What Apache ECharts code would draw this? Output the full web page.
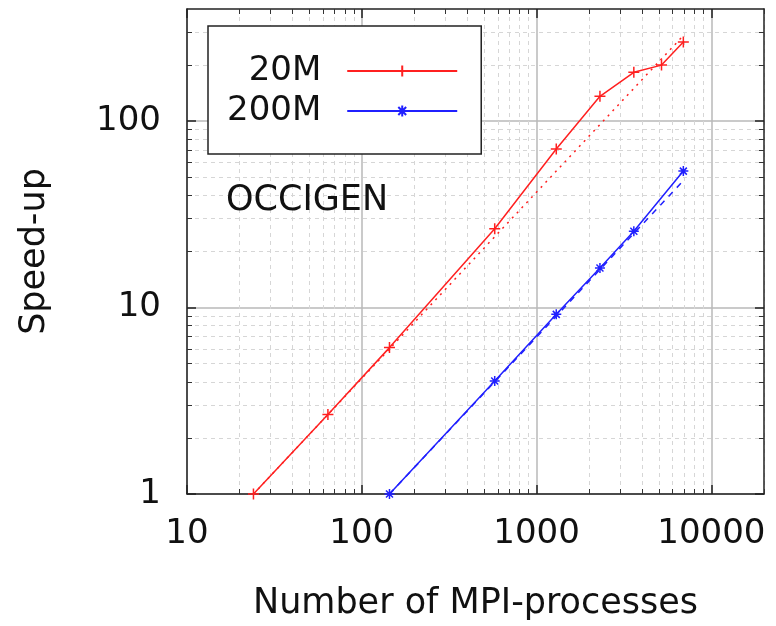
<!DOCTYPE html>
<html>
<head>
  <meta charset="UTF-8">
  <title>Speed-up OCCIGEN</title>
  <script src="https://cdn.jsdelivr.net/npm/echarts@6/dist/echarts.min.js"></script>
  <style>
    html, body { margin: 0; padding: 0; background: #fff; }
    #chart { width: 776px; height: 626px; }
  </style>
</head>
<body>
  <div id="chart"></div>
  <script>
    // 20M : measured speed-up
    const procs20M = [24, 64, 144, 576, 1296, 2304, 3600, 5184, 6912];
    const speed20M = [1, 2.67, 6.1, 26.5, 71, 136, 183, 200, 266];
    // 20M : ideal (dotted)
    const ideal20MX = [24, 6912];
    const ideal20MY = [1, 288];

    // 200M : measured speed-up
    const procs200M = [144, 576, 1296, 2304, 3600, 6912];
    const speed200M = [1, 4.04, 9.2, 16.3, 25.7, 54];
    // 200M : ideal (dashed)
    const ideal200MX = [144, 6912];
    const ideal200MY = [1, 48];

    // ticks
    const xMajor = [10, 100, 1000, 10000];
    const xMinor = [20, 30, 40, 50, 60, 70, 80, 90, 200, 300, 400, 500, 600, 700, 800, 900,
      2000, 3000, 4000, 5000, 6000, 7000, 8000, 9000, 20000];
    const yMajor = [1, 10, 100];
    const yMinor = [2, 3, 4, 5, 6, 7, 8, 9, 20, 30, 40, 50, 60, 70, 80, 90, 200, 300];

    const pairs = (xs, ys) => xs.map((x, i) => [x, ys[i]]);

    const FONT = 'DejaVu Sans';
    const plusSym = 'path://M0,5L10,5M5,0L5,10';
    const starSym = 'path://M0,5L10,5M5,0L5,10M1.5,1.5L8.5,8.5M1.5,8.5L8.5,1.5';

    function majorAxis(kind, pos, withLabels) {
      const isX = kind === 'x';
      return {
        type: 'log',
        logBase: 10,
        position: pos,
        min: isX ? 10 : 1,
        max: isX ? 20000 : 400,
        name: withLabels ? (isX ? 'Number of MPI-processes' : 'Speed-up') : '',
        nameLocation: 'middle',
        nameGap: isX ? 92 : 135,
        nameTextStyle: { fontFamily: FONT, fontSize: 35, color: '#111' },
        axisLine: { show: true, onZero: false, lineStyle: { color: '#222', width: 1.5 } },
        axisTick: {
          show: true, inside: true, length: 9,
          customValues: isX ? xMajor : yMajor,
          lineStyle: { color: '#222', width: 1.5 }
        },
        axisLabel: {
          show: withLabels,
          customValues: isX ? xMajor : yMajor,
          formatter: v => String(v),
          fontFamily: FONT, fontSize: 34, color: '#111',
          margin: isX ? 23 : 26
        },
        splitLine: {
          show: withLabels,
          lineStyle: { color: '#b8b8b8', width: 1.5 }
        },
        minorTick: { show: false },
        minorSplitLine: { show: false }
      };
    }

    function minorAxis(kind, pos, withGrid) {
      const isX = kind === 'x';
      return {
        type: 'log',
        logBase: 10,
        position: pos,
        min: isX ? 10 : 1,
        max: isX ? 20000 : 400,
        axisLine: { show: false },
        axisTick: {
          show: true, inside: true, length: 5,
          customValues: isX ? xMinor : yMinor,
          lineStyle: { color: '#333', width: 1 }
        },
        axisLabel: { show: false },
        splitLine: {
          show: withGrid,
          lineStyle: { color: '#d6d6d6', width: 1, type: [4, 4] }
        }
      };
    }

    const chart = echarts.init(document.getElementById('chart'));

    chart.setOption({
      animation: false,
      backgroundColor: '#fff',
      grid: { left: 187, right: 12, top: 9, bottom: 129, containLabel: false },
      title: {
        text: 'OCCIGEN',
        left: 221,
        top: 178,
        textStyle: { fontFamily: FONT, fontSize: 35, fontWeight: 'normal', color: '#111' }
      },
      legend: {
        data: ['20M', '200M'],
        orient: 'vertical',
        align: 'right',
        left: 208,
        top: 26,
        padding: [28, 23, 26, 19],
        itemGap: 6,
        itemWidth: 110,
        itemHeight: 14,
        backgroundColor: '#fff',
        borderColor: '#222',
        borderWidth: 1.5,
        textStyle: {
          fontFamily: FONT, fontSize: 34, color: '#111',
          width: 97, align: 'right', padding: [0, 21, 0, 0]
        }
      },
      xAxis: [
        majorAxis('x', 'bottom', true),
        majorAxis('x', 'top', false),
        minorAxis('x', 'bottom', true),
        minorAxis('x', 'top', false)
      ],
      yAxis: [
        majorAxis('y', 'left', true),
        majorAxis('y', 'right', false),
        minorAxis('y', 'left', true),
        minorAxis('y', 'right', false)
      ],
      series: [
        {
          name: '20M',
          type: 'line',
          data: pairs(procs20M, speed20M),
          symbol: plusSym,
          symbolSize: 11,
          lineStyle: { color: '#ff2020', width: 1.5 },
          itemStyle: { color: '#ff2020', borderColor: '#ff2020', borderWidth: 1.5 },
          z: 5
        },
        {
          name: '20M ideal',
          type: 'line',
          data: pairs(ideal20MX, ideal20MY),
          symbol: 'none',
          lineStyle: { color: '#ff2020', width: 1.5, type: [2, 5] },
          z: 4
        },
        {
          name: '200M',
          type: 'line',
          data: pairs(procs200M, speed200M),
          symbol: starSym,
          symbolSize: 10,
          lineStyle: { color: '#2020ff', width: 1.5 },
          itemStyle: { color: '#2020ff', borderColor: '#2020ff', borderWidth: 1.5 },
          z: 5
        },
        {
          name: '200M ideal',
          type: 'line',
          data: pairs(ideal200MX, ideal200MY),
          symbol: 'none',
          lineStyle: { color: '#2020ff', width: 1.5, type: [6, 6] },
          z: 4
        }
      ]
    });
  </script>
</body>
</html>
